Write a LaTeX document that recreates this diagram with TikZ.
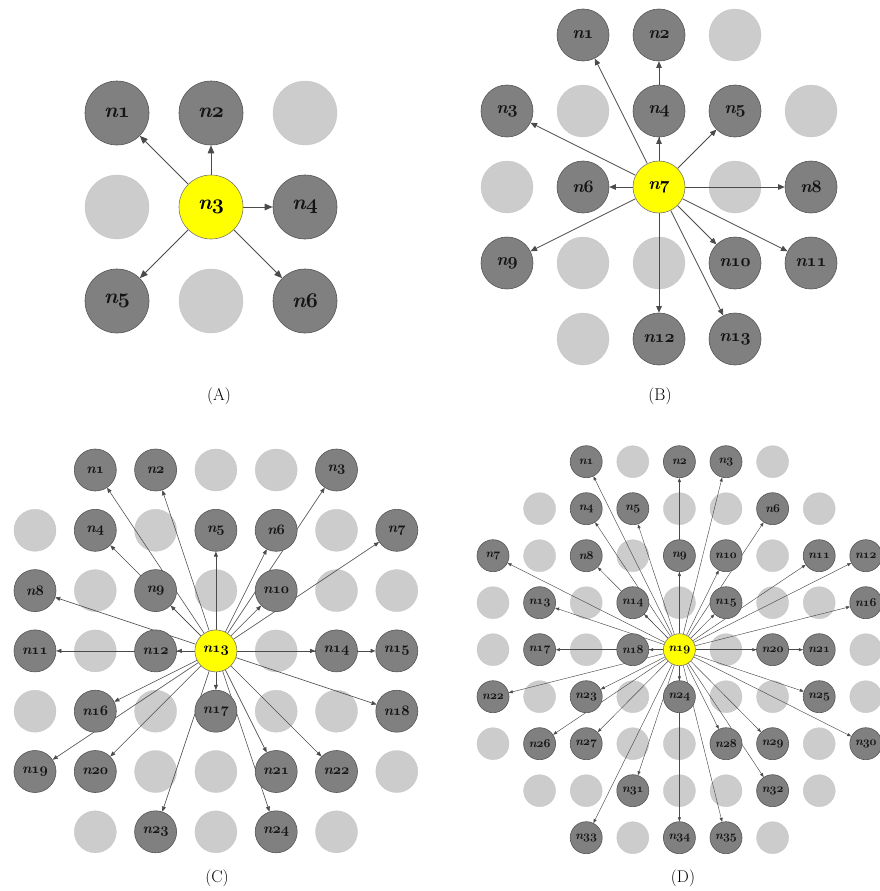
\RequirePackage{fix-cm}
\documentclass[tikz,border=0pt]{standalone}
\usepackage{tikz}
\usetikzlibrary{arrows.meta}
\definecolor{cellgray}{HTML}{808080}
\definecolor{celledge}{HTML}{555555}
\definecolor{emptycell}{HTML}{CCCCCC}
\definecolor{hubyellow}{HTML}{FFFF00}
\definecolor{hubedge}{HTML}{777777}
\definecolor{linkgray}{HTML}{4A4A4A}
\definecolor{labelink}{HTML}{141414}
\pgfdeclarelayer{idlelayer}
\pgfdeclarelayer{linklayer}
\pgfsetlayers{idlelayer,linklayer,main}
\newcommand{\nlab}[1]{n{\fontencoding{OML}\fontfamily{cmm}\fontseries{b}\fontshape{it}\selectfont #1}}

\begin{document}
\begin{tikzpicture}[
  x=1pt, y=-1pt,
  idle/.style={circle, inner sep=0pt, minimum size=\cellsize, fill=emptycell, draw=emptycell!96!black, line width=0.3pt},
  busy/.style={circle, inner sep=0pt, minimum size=\cellsize, fill=cellgray, draw=celledge, line width=0.6pt, text=labelink,
    font=\bfseries\itshape\fontsize{\labsize}{\labsize}\selectfont},
  hub/.style={busy, fill=hubyellow, draw=hubedge, text=black},
  link/.style={draw=linkgray, line width=\linkwidth, -{Triangle[length=\tiplen, width=\tipwid]}},
  caption/.style={font=\fontsize{17}{17}\selectfont},
]
  \useasboundingbox (0,0) rectangle (880,891);

  % (A) 3x3 grid
  \begin{scope}[shift={(117pt,-113pt)}, x=94pt, y=-94pt]
    \def\cellsize{64pt}\def\labsize{21}\def\linkwidth{0.9pt}\def\tiplen{8pt}\def\tipwid{6.5pt}
    \begin{pgfonlayer}{idlelayer}
      \foreach \p [count=\k] in {(2,0),(0,1),(1,2)}
        \node[idle] (aidle\k) at \p {};
    \end{pgfonlayer}
    \node[busy] (a1) at (0,0) {\nlab{1}};
    \node[busy] (a2) at (1,0) {\nlab{2}};
    \node[hub]  (a3) at (1,1) {\nlab{3}};
    \node[busy] (a4) at (2,1) {\nlab{4}};
    \node[busy] (a5) at (0,2) {\nlab{5}};
    \node[busy] (a6) at (2,2) {\nlab{6}};
    \begin{pgfonlayer}{linklayer}
      \foreach \i in {1,2,4,5,6}
        \draw[link] (a3) -- (a\i);
    \end{pgfonlayer}
  \end{scope}

  % (B) 5x5 grid
  \begin{scope}[shift={(507pt,-35pt)}, x=76pt, y=-76pt]
    \def\cellsize{52pt}\def\labsize{17.5}\def\linkwidth{0.8pt}\def\tiplen{6.5pt}\def\tipwid{5.5pt}
    \begin{pgfonlayer}{idlelayer}
      \foreach \p [count=\k] in {(3,0),(1,1),(4,1),(0,2),(3,2),(1,3),(2,3),(1,4)}
        \node[idle] (bidle\k) at \p {};
    \end{pgfonlayer}
    \node[busy] (b1) at (1,0) {\nlab{1}};
    \node[busy] (b2) at (2,0) {\nlab{2}};
    \node[busy] (b3) at (0,1) {\nlab{3}};
    \node[busy] (b4) at (2,1) {\nlab{4}};
    \node[busy] (b5) at (3,1) {\nlab{5}};
    \node[busy] (b6) at (1,2) {\nlab{6}};
    \node[hub]  (b7) at (2,2) {\nlab{7}};
    \node[busy] (b8) at (4,2) {\nlab{8}};
    \node[busy] (b9) at (0,3) {\nlab{9}};
    \node[busy] (b10) at (3,3) {\nlab{10}};
    \node[busy] (b11) at (4,3) {\nlab{11}};
    \node[busy] (b12) at (2,4) {\nlab{12}};
    \node[busy] (b13) at (3,4) {\nlab{13}};
    \begin{pgfonlayer}{linklayer}
      \foreach \i in {1,...,6,8,9,...,13}
        \draw[link] (b7) -- (b\i);
    \end{pgfonlayer}
  \end{scope}

  % (C) 7x7 grid
  \begin{scope}[shift={(35pt,-470pt)}, x=60.3pt, y=-60.3pt]
    \def\cellsize{42pt}\def\labsize{14.4}\def\linkwidth{0.6pt}\def\tiplen{5pt}\def\tipwid{4pt}
    \begin{pgfonlayer}{idlelayer}
      \foreach \p [count=\k] in {(3,0),(4,0),(0,1),(2,1),(5,1),(1,2),(3,2),(5,2),(6,2),
          (1,3),(4,3),(0,4),(2,4),(4,4),(5,4),(2,5),(3,5),(6,5),(1,6),(3,6),(5,6)}
        \node[idle] (cidle\k) at \p {};
    \end{pgfonlayer}
    \node[busy] (c1) at (1,0) {\nlab{1}};
    \node[busy] (c2) at (2,0) {\nlab{2}};
    \node[busy] (c3) at (5,0) {\nlab{3}};
    \node[busy] (c4) at (1,1) {\nlab{4}};
    \node[busy] (c5) at (3,1) {\nlab{5}};
    \node[busy] (c6) at (4,1) {\nlab{6}};
    \node[busy] (c7) at (6,1) {\nlab{7}};
    \node[busy] (c8) at (0,2) {\nlab{8}};
    \node[busy] (c9) at (2,2) {\nlab{9}};
    \node[busy] (c10) at (4,2) {\nlab{10}};
    \node[busy] (c11) at (0,3) {\nlab{11}};
    \node[busy] (c12) at (2,3) {\nlab{12}};
    \node[hub]  (c13) at (3,3) {\nlab{13}};
    \node[busy] (c14) at (5,3) {\nlab{14}};
    \node[busy] (c15) at (6,3) {\nlab{15}};
    \node[busy] (c16) at (1,4) {\nlab{16}};
    \node[busy] (c17) at (3,4) {\nlab{17}};
    \node[busy] (c18) at (6,4) {\nlab{18}};
    \node[busy] (c19) at (0,5) {\nlab{19}};
    \node[busy] (c20) at (1,5) {\nlab{20}};
    \node[busy] (c21) at (4,5) {\nlab{21}};
    \node[busy] (c22) at (5,5) {\nlab{22}};
    \node[busy] (c23) at (2,6) {\nlab{23}};
    \node[busy] (c24) at (4,6) {\nlab{24}};
    \begin{pgfonlayer}{linklayer}
      \foreach \i in {1,...,12,14,15,...,24}
        \draw[link] (c13) -- (c\i);
    \end{pgfonlayer}
  \end{scope}

  % (D) 9x9 grid
  \begin{scope}[shift={(493pt,-461.7pt)}, x=46.6pt, y=-47pt]
    \def\cellsize{32pt}\def\labsize{12}\def\linkwidth{0.45pt}\def\tiplen{4pt}\def\tipwid{3pt}
    \begin{pgfonlayer}{idlelayer}
      \foreach \p [count=\k] in {(3,0),(6,0),(1,1),(4,1),(5,1),(7,1),(1,2),(3,2),(6,2),
          (0,3),(2,3),(4,3),(6,3),(7,3),(0,4),(2,4),(5,4),(8,4),(1,5),(3,5),(5,5),(6,5),(8,5),
          (0,6),(3,6),(4,6),(7,6),(1,7),(2,7),(4,7),(5,7),(7,7),(3,8),(6,8)}
        \node[idle] (didle\k) at \p {};
    \end{pgfonlayer}
    \node[busy] (d1) at (2,0) {\nlab{1}};
    \node[busy] (d2) at (4,0) {\nlab{2}};
    \node[busy] (d3) at (5,0) {\nlab{3}};
    \node[busy] (d4) at (2,1) {\nlab{4}};
    \node[busy] (d5) at (3,1) {\nlab{5}};
    \node[busy] (d6) at (6,1) {\nlab{6}};
    \node[busy] (d7) at (0,2) {\nlab{7}};
    \node[busy] (d8) at (2,2) {\nlab{8}};
    \node[busy] (d9) at (4,2) {\nlab{9}};
    \node[busy] (d10) at (5,2) {\nlab{10}};
    \node[busy] (d11) at (7,2) {\nlab{11}};
    \node[busy] (d12) at (8,2) {\nlab{12}};
    \node[busy] (d13) at (1,3) {\nlab{13}};
    \node[busy] (d14) at (3,3) {\nlab{14}};
    \node[busy] (d15) at (5,3) {\nlab{15}};
    \node[busy] (d16) at (8,3) {\nlab{16}};
    \node[busy] (d17) at (1,4) {\nlab{17}};
    \node[busy] (d18) at (3,4) {\nlab{18}};
    \node[hub]  (d19) at (4,4) {\nlab{19}};
    \node[busy] (d20) at (6,4) {\nlab{20}};
    \node[busy] (d21) at (7,4) {\nlab{21}};
    \node[busy] (d22) at (0,5) {\nlab{22}};
    \node[busy] (d23) at (2,5) {\nlab{23}};
    \node[busy] (d24) at (4,5) {\nlab{24}};
    \node[busy] (d25) at (7,5) {\nlab{25}};
    \node[busy] (d26) at (1,6) {\nlab{26}};
    \node[busy] (d27) at (2,6) {\nlab{27}};
    \node[busy] (d28) at (5,6) {\nlab{28}};
    \node[busy] (d29) at (6,6) {\nlab{29}};
    \node[busy] (d30) at (8,6) {\nlab{30}};
    \node[busy] (d31) at (3,7) {\nlab{31}};
    \node[busy] (d32) at (6,7) {\nlab{32}};
    \node[busy] (d33) at (2,8) {\nlab{33}};
    \node[busy] (d34) at (4,8) {\nlab{34}};
    \node[busy] (d35) at (5,8) {\nlab{35}};
    \begin{pgfonlayer}{linklayer}
      \foreach \i in {1,...,18,20,21,...,35}
        \draw[link] (d19) -- (d\i);
    \end{pgfonlayer}
  \end{scope}

  % Captions
  \node[caption] (capA) at (219,396) {(A)};
  \node[caption] (capB) at (660,396) {(B)};
  \node[caption] (capC) at (217,878) {(C)};
  \node[caption] (capD) at (683,878) {(D)};
\end{tikzpicture}
\end{document}
